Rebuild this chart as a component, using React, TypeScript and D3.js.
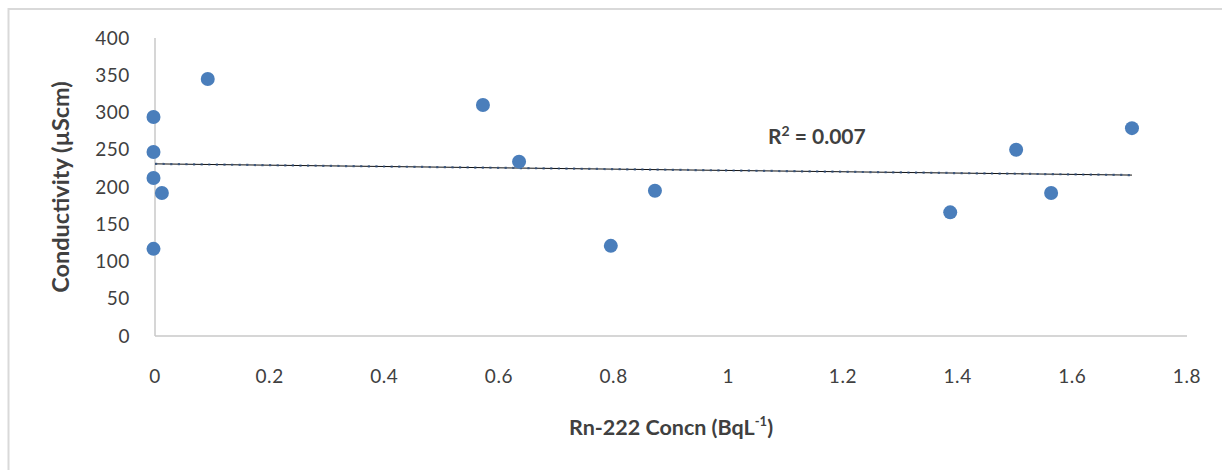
import React from "react";
import * as d3 from "d3";

const rnConc: number[] = [0, 0, 0, 0.012, 0, 0.092, 0.572, 0.635, 0.795, 0.872, 1.387, 1.502, 1.563, 1.704];
const conductivity: number[] = [294, 247, 212, 192, 117, 345, 310, 234, 121, 195, 166, 250, 192, 279];
const xTicks: number[] = [0, 0.2, 0.4, 0.6, 0.8, 1, 1.2, 1.4, 1.6, 1.8];
const yTicks: number[] = [0, 50, 100, 150, 200, 250, 300, 350, 400];

const W = 1222;
const H = 470;
const FONT = "Lato, 'Open Sans', sans-serif";

export default function App() {
  const x = d3.scaleLinear().domain([0, 1.8]).range([155, 1187]);
  const y = d3.scaleLinear().domain([0, 400]).range([336, 38]);

  // linear regression
  const n = rnConc.length;
  const mx = d3.mean(rnConc) as number;
  const my = d3.mean(conductivity) as number;
  let sxy = 0, sxx = 0, syy = 0;
  for (let i = 0; i < n; i++) {
    const dx = rnConc[i] - mx;
    const dy = conductivity[i] - my;
    sxy += dx * dy;
    sxx += dx * dx;
    syy += dy * dy;
  }
  const slope = sxy / sxx;
  const intercept = my - slope * mx;
  const r2 = (sxy * sxy) / (sxx * syy);
  const xMin = d3.min(rnConc) as number;
  const xMax = d3.max(rnConc) as number;
  const trend = d3.line<number>()
    .x((d) => x(d))
    .y((d) => y(intercept + slope * d))([xMin, xMax]) as string;

  return (
    <svg width={W} height={H} style={{ position: "absolute", left: 0, top: 0, background: "#fff" }}>
      <rect x={8.5} y={9} width={1300} height={600} fill="#fff" stroke="#d9d9d9" strokeWidth={2} />
      {/* axes */}
      <line x1={x(0)} x2={x(0)} y1={y(400)} y2={y(0)} stroke="#c8c8c8" strokeWidth={1.5} />
      <line x1={x(0)} x2={x(1.8)} y1={y(0)} y2={y(0)} stroke="#c8c8c8" strokeWidth={1.5} />
      {yTicks.map((t) => (
        <text key={"y" + t} x={130} y={y(t)} dy="0.35em" textAnchor="end" fontFamily={FONT} fontSize={19} letterSpacing={0.6} fill="#404040">
          {t}
        </text>
      ))}
      {xTicks.map((t) => (
        <text key={"x" + t} x={x(t)} y={376} dy="0.35em" textAnchor="middle" fontFamily={FONT} fontSize={19} letterSpacing={0.6} fill="#404040">
          {t}
        </text>
      ))}
      {/* trendline */}
      <path d={trend} stroke="#111" strokeWidth={1} fill="none" />
      <path d={trend} stroke="#2e4d7b" strokeWidth={2.2} strokeDasharray="2.2,5.4" fill="none" opacity={0.8} />
      {/* points */}
      {rnConc.map((v, i) => (
        <circle key={i} cx={x(v) - (v === 0 ? 1.5 : 0)} cy={y(conductivity[i])} r={7} fill="#4a7ebb" />
      ))}
      {/* R2 label */}
      <text x={768} y={144} fontFamily={FONT} fontSize={21} fontWeight="bold" fill="#404040">
        R<tspan fontSize={14} dy={-8}>2</tspan>
        <tspan dy={8}>{" = " + r2.toFixed(3)}</tspan>
      </text>
      {/* axis titles */}
      <text
        transform={`translate(69,${(y(0) + y(400)) / 2}) rotate(-90)`}
        textAnchor="middle"
        fontFamily={FONT}
        fontSize={23.5}
        fontWeight="bold"
        fill="#404040"
      >
        Conductivity (µScm)
      </text>
      <text x={(x(0) + x(1.8)) / 2} y={435} textAnchor="middle" fontFamily={FONT} fontSize={21.5} fontWeight="bold" fill="#404040">
        Rn-222 Concn (BqL<tspan fontSize={13} dy={-9}>-1</tspan>
        <tspan dy={9}>)</tspan>
      </text>
    </svg>
  );
}
